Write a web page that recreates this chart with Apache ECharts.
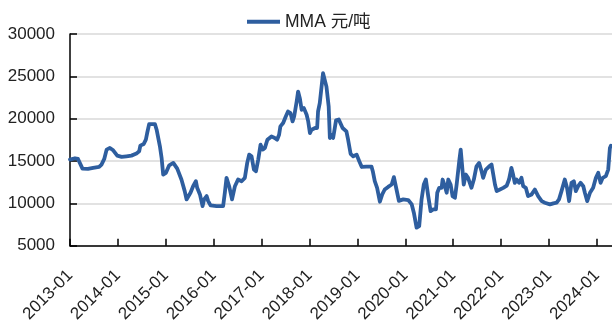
<!DOCTYPE html>
<html>
<head>
<meta charset="utf-8">
<script src="https://cdn.jsdelivr.net/npm/echarts@6/dist/echarts.min.js"></script>
<style>
  html, body { margin: 0; padding: 0; background: #fff; }
  #chart { width: 612px; height: 325px; }
</style>
</head>
<body>
<div id="chart"></div>
<script>
// MMA price, yuan per tonne
const seriesName = 'MMA 元/吨';

const dates = [
  '2013-01-01','2013-02-08','2013-03-03','2013-04-06','2013-05-18','2013-06-26','2013-08-11','2013-08-29',
  '2013-09-19','2013-10-07','2013-11-01','2013-11-26','2013-12-27','2014-01-29','2014-03-07','2014-04-14',
  '2014-05-22','2014-06-12','2014-06-21','2014-07-17','2014-08-02','2014-08-12','2014-08-27','2014-10-10',
  '2014-10-23','2014-11-17','2014-11-30','2014-12-12','2015-01-02','2015-01-27','2015-02-27','2015-03-29',
  '2015-04-30','2015-05-25','2015-06-08','2015-06-20','2015-07-08','2015-07-28','2015-08-18','2015-08-28',
  '2015-09-18','2015-10-08','2015-10-20','2015-11-08','2015-11-20','2015-12-08','2016-01-23','2016-03-13',
  '2016-03-26','2016-04-08','2016-04-28','2016-05-20','2016-06-11','2016-07-05','2016-08-01','2016-08-26',
  '2016-09-13','2016-09-28','2016-10-16','2016-11-03','2016-11-19','2016-12-06','2016-12-24','2017-01-09',
  '2017-01-26','2017-02-14','2017-02-28','2017-03-17','2017-04-11','2017-04-29','2017-05-14','2017-05-24',
  '2017-06-14','2017-07-04','2017-07-21','2017-08-09','2017-08-25','2017-09-06','2017-09-25','2017-10-06',
  '2017-10-19','2017-11-02','2017-11-19','2017-12-10','2017-12-22','2018-01-04','2018-01-17','2018-02-12',
  '2018-02-28','2018-03-07','2018-03-20','2018-04-02','2018-04-14','2018-04-27','2018-05-10','2018-05-27',
  '2018-06-05','2018-06-18','2018-06-30','2018-07-22','2018-08-12','2018-09-10','2018-10-09','2018-10-22',
  '2018-11-10','2018-11-30','2018-12-26','2019-01-15','2019-02-03','2019-03-11','2019-04-18','2019-04-28',
  '2019-05-13','2019-05-31','2019-06-21','2019-07-09','2019-07-28','2019-08-23','2019-09-19','2019-10-06',
  '2019-10-25','2019-11-13','2019-12-16','2020-01-23','2020-02-19','2020-03-06','2020-03-27','2020-04-16',
  '2020-05-04','2020-05-21','2020-06-06','2020-06-24','2020-07-12','2020-08-01','2020-08-22','2020-09-01',
  '2020-09-16','2020-10-04','2020-10-12','2020-10-29','2020-11-12','2020-11-24','2020-12-12','2020-12-27',
  '2021-01-14','2021-01-27','2021-02-17','2021-02-27','2021-03-12','2021-03-22','2021-04-07','2021-04-24',
  '2021-05-07','2021-05-20','2021-06-07','2021-06-27','2021-07-17','2021-08-05','2021-08-17','2021-09-07',
  '2021-10-02','2021-10-20','2021-11-02','2021-11-15','2021-11-28','2021-12-23','2022-01-17','2022-02-13',
  '2022-03-02','2022-03-20','2022-04-02','2022-04-15','2022-04-28','2022-05-18','2022-06-05','2022-06-18',
  '2022-07-08','2022-07-25','2022-08-21','2022-09-15','2022-10-10','2022-11-06','2022-11-30','2023-01-08',
  '2023-02-03','2023-02-28','2023-03-18','2023-04-06','2023-05-01','2023-05-18','2023-06-03','2023-06-21',
  '2023-07-09','2023-07-24','2023-08-11','2023-08-29','2023-09-19','2023-10-01','2023-10-19','2023-11-09',
  '2023-12-03','2023-12-24','2024-01-11','2024-01-29','2024-02-14','2024-03-09','2024-03-27','2024-04-09',
  '2024-04-17'
];

const prices = [
  15170,15330,15250,14110,14080,14200,14310,14580,
  15250,16350,16550,16270,15640,15490,15560,15640,
  15880,16150,16820,17020,17520,18310,19370,19370,
  18700,16740,15370,13410,13610,14500,14780,14100,
  12820,11450,10470,10470,11260,12030,12620,11840,
  11060,9680,10470,10860,10270,9760,9680,9680,
  11260,13020,12030,10470,12030,12820,12620,13020,
  14780,15760,15560,14000,13800,15170,16940,16350,
  16550,17520,17720,17910,17720,17520,18110,19090,
  19490,20260,20850,20660,19680,20260,22030,23200,
  22430,21050,21250,20460,19680,18310,18700,18900,
  18900,20850,21840,21640,25370,25370,23790,21440,
  17720,18110,17720,19800,19900,18900,18500,17520,
  15860,15560,15760,14970,14300,14350,14350,13800,
  12620,11840,10200,11060,11640,11950,12230,13100,
  11700,10300,10470,10400,9880,8900,7140,7330,
  10470,12230,12820,10860,9090,9290,9290,11260,
  11840,11840,12820,12030,11260,12820,12230,10860,
  10660,12230,15170,16350,16150,12230,13410,13020,
  13220,11840,12820,14380,14780,13800,13020,14000,
  14380,14580,13410,12230,11450,11640,11840,12110,
  12820,14200,13410,12430,12820,12430,13020,12030,
  11840,10860,11060,11640,10860,10270,10080,9880,
  10000,10080,10470,11450,12820,11840,10270,12430,
  12620,11450,12030,12430,12030,11260,10270,11260,
  11840,13020,13610,12430,13020,13220,14000,16550,
  16820
];

const yearTicks = ['2013-01','2014-01','2015-01','2016-01','2017-01','2018-01',
                   '2019-01','2020-01','2021-01','2022-01','2023-01','2024-01'];

const axisStart = '2013-01-01';
const axisEnd = '2024-04-25';
const yMin = 5000, yMax = 30000, yStep = 5000;

// Convert a date string to a fractional year so each Jan 1st lands on an integer.
function toYear(s) {
  const [y, m, d] = s.split('-').map(Number);
  const start = Date.UTC(y, 0, 1);
  const next = Date.UTC(y + 1, 0, 1);
  return y + (Date.UTC(y, m - 1, d) - start) / (next - start);
}

const points = dates.map((d, i) => [toYear(d), prices[i]]);
const firstYear = toYear(axisStart);
const tickLabel = {};
yearTicks.forEach(t => { tickLabel[Number(t.slice(0, 4))] = t; });

const font = '"Liberation Sans", Arial, "Noto Sans CJK SC", sans-serif';
const chart = echarts.init(document.getElementById('chart'), null, { renderer: 'canvas' });

chart.setOption({
  animation: false,
  backgroundColor: '#fff',
  textStyle: { fontFamily: font },
  legend: {
    data: [seriesName],
    top: 8,
    left: 242,
    icon: 'rect',
    itemWidth: 33,
    itemHeight: 4,
    itemGap: 6,
    textStyle: { fontSize: 17.5, color: '#222', fontFamily: font, padding: [0, 0, 0, 0] }
  },
  grid: { left: 70, right: 0, top: 34, bottom: 78.5, containLabel: false },
  xAxis: {
    type: 'value',
    min: firstYear,
    max: toYear(axisEnd),
    interval: 1,
    axisLine: { show: true, lineStyle: { color: '#000', width: 1.5 } },
    axisTick: { show: true, inside: true, length: 7, lineStyle: { color: '#000', width: 1.5 } },
    splitLine: { show: false },
    axisLabel: {
      rotate: 45,
      margin: 27,
      fontSize: 17,
      color: '#222',
      fontFamily: font,
      showMaxLabel: false,
      formatter: v => tickLabel[Math.round(v)] && Math.abs(v - Math.round(v)) < 1e-6 ? tickLabel[Math.round(v)] : ''
    }
  },
  yAxis: {
    type: 'value',
    min: yMin,
    max: yMax,
    interval: yStep,
    axisLine: { show: true, lineStyle: { color: '#000', width: 1.5 } },
    axisTick: { show: true, inside: true, length: 7, lineStyle: { color: '#000', width: 1.5 } },
    splitLine: { show: true, lineStyle: { color: '#d9d9d9', width: 1.5 } },
    axisLabel: { fontSize: 17, color: '#222', margin: 15, fontFamily: font, formatter: v => String(v) }
  },
  series: [{
    name: seriesName,
    type: 'line',
    data: points,
    showSymbol: false,
    smooth: false,
    lineStyle: { color: '#2e5e9f', width: 3.8, join: 'round', cap: 'round' },
    itemStyle: { color: '#2e5e9f' }
  }]
});
</script>
</body>
</html>
